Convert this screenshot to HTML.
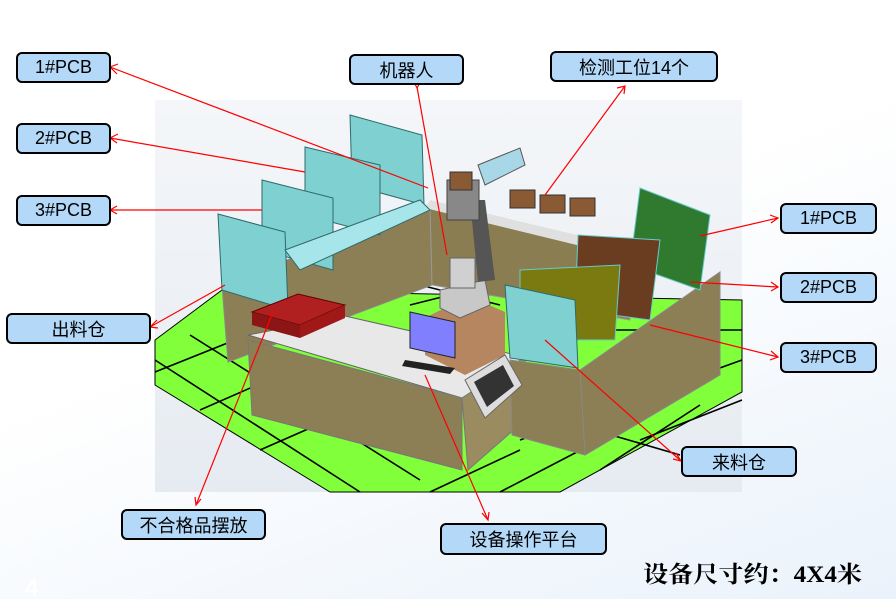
<!DOCTYPE html>
<html><head><meta charset="utf-8"><style>
body{margin:0;width:896px;height:599px;overflow:hidden;background:linear-gradient(160deg,#ffffff 0%,#ffffff 45%,#eaf2fb 100%);font-family:"Liberation Sans","Noto Sans CJK SC",sans-serif;position:relative}
.lb{position:absolute;background:#b3d8f8;border:2.5px solid #000;border-radius:6px;box-sizing:border-box;font-size:18px;color:#000;display:flex;align-items:center;justify-content:center}
svg{position:absolute;left:0;top:0}
</style></head><body>
<svg width="896" height="599" viewBox="0 0 896 599">
<defs><linearGradient id="bg" x1="0" y1="0" x2="0" y2="1"><stop offset="0" stop-color="#f4f6f9"/><stop offset="1" stop-color="#e6ebf1"/></linearGradient></defs>
<rect x="155" y="100" width="587" height="392" fill="url(#bg)"/>
<!-- floor -->
<polygon points="155,340 222,290 742,300 742,392 560,492 330,492 155,385" fill="#80ff3a" stroke="#000" stroke-width="1"/>
<g stroke="#000" stroke-width="1.6" fill="none">
<line x1="155" y1="360" x2="360" y2="492"/><line x1="190" y1="335" x2="420" y2="480"/>
<line x1="580" y1="330" x2="742" y2="330"/><line x1="155" y1="372" x2="260" y2="330"/>
<line x1="200" y1="410" x2="280" y2="375"/><line x1="260" y1="450" x2="340" y2="415"/>
<line x1="430" y1="492" x2="520" y2="450"/><line x1="500" y1="492" x2="600" y2="440"/>
<line x1="600" y1="470" x2="700" y2="405"/><line x1="520" y1="440" x2="742" y2="360"/>
<line x1="640" y1="440" x2="742" y2="400"/><line x1="680" y1="455" x2="560" y2="420"/>
<line x1="420" y1="285" x2="500" y2="305"/><line x1="410" y1="305" x2="470" y2="290"/>
</g>
<!-- back walls -->
<polygon points="222,285 430,205 432,285 228,362" fill="#8c7f55" stroke="#888"/>
<polygon points="430,205 630,255 630,320 432,285" fill="#8b7d52" stroke="#999"/>
<polygon points="430,200 640,250 630,258 425,208" fill="#e0e0e0"/>
<!-- left racks teal -->
<g fill="#7fd0d0" stroke="#2e6a6a" stroke-width="1">
<polygon points="350,115 422,135 424,205 352,185"/>
<polygon points="305,147 380,165 380,235 305,215"/>
<polygon points="262,180 333,198 333,270 262,250"/>
<polygon points="218,214 285,232 288,310 222,290"/>
<polygon points="285,250 420,200 430,210 300,270" fill="#a6e6ea"/>
</g>
<!-- table -->
<polygon points="248,335 345,316 525,357 462,398" fill="#e8e8e8" stroke="#666"/>
<polygon points="248,340 462,398 462,470 252,415" fill="#8c7f55" stroke="#777"/>
<polygon points="462,398 525,357 525,420 468,470" fill="#9a8c60" stroke="#777"/>
<!-- red boxes -->
<polygon points="252,312 298,294 345,305 300,325" fill="#b02020" stroke="#600"/>
<polygon points="252,312 300,325 300,338 252,325" fill="#8c1515"/>
<polygon points="300,325 345,305 345,318 300,338" fill="#a01818"/>
<!-- robot base + robot -->
<polygon points="425,318 468,296 505,312 505,355 465,375 425,355" fill="#b58660"/>
<polygon points="440,290 485,280 490,305 460,318 440,308" fill="#c8c8c8" stroke="#666"/>
<rect x="450" y="258" width="25" height="30" fill="#d0d0d0" stroke="#666"/>
<polygon points="470,200 485,200 495,280 478,282" fill="#555"/>
<rect x="447" y="180" width="32" height="40" fill="#888" stroke="#444"/>
<polygon points="478,165 520,148 525,165 485,185" fill="#a8d8e8" stroke="#555"/>
<!-- inspection stations -->
<g fill="#8a5a35" stroke="#333"><rect x="510" y="190" width="25" height="18"/><rect x="540" y="195" width="25" height="18"/><rect x="570" y="198" width="25" height="18"/><rect x="450" y="172" width="22" height="18"/></g>
<!-- right enclosure -->
<polygon points="580,370 720,272 720,375 585,455" fill="#8c7f55" stroke="#888"/>
<polygon points="510,360 580,370 585,455 512,435" fill="#8c7f55" stroke="#888"/>
<!-- right racks -->
<polygon points="640,188 710,215 700,290 630,265" fill="#2f7a2f" stroke="#6cc"/>
<polygon points="578,235 660,240 650,320 575,310" fill="#6b3d20" stroke="#6cc"/>
<polygon points="520,270 620,265 615,340 520,340" fill="#7a7a10" stroke="#6cc"/>
<polygon points="505,285 575,300 578,368 510,358" fill="#7fd0d0" stroke="#2e6a6a"/>
<!-- monitor & panel -->
<polygon points="410,312 455,322 455,358 410,348" fill="#8080ff" stroke="#222"/>
<polygon points="405,360 455,368 450,374 402,366" fill="#222"/>
<polygon points="465,380 505,355 522,385 485,418" fill="#ddd" stroke="#666"/>
<polygon points="474,382 503,365 514,386 487,407" fill="#333"/>
<!-- arrows -->
<g stroke="#f00" stroke-width="1.2" fill="none">
<line x1="110" y1="67" x2="428" y2="188"/><line x1="110" y1="138" x2="305" y2="172"/>
<line x1="110" y1="210" x2="262" y2="210"/><line x1="417" y1="87" x2="447" y2="255"/>
<line x1="625" y1="86" x2="545" y2="195"/><line x1="778" y1="218" x2="700" y2="236"/>
<line x1="778" y1="287" x2="690" y2="282"/><line x1="778" y1="357" x2="650" y2="325"/>
<line x1="150" y1="327" x2="225" y2="285"/><line x1="681" y1="461" x2="545" y2="340"/>
<line x1="196" y1="505" x2="273" y2="312"/><line x1="488" y1="520" x2="425" y2="375"/>
<polyline points="118,64 110,67 117,74"/><polyline points="118,134 110,138 117,143"/>
<polyline points="117,206 110,210 117,214"/><polyline points="413,80 417,88 421,81"/>
<polyline points="617,88 625,86 624,94"/><polyline points="770,215 778,218 771,223"/>
<polyline points="771,282 778,287 771,291"/><polyline points="771,351 778,357 770,360"/>
<polyline points="157,320 150,327 158,328"/><polyline points="676,453 681,461 673,459"/>
<polyline points="195,497 196,505 201,499"/><polyline points="482,513 488,520 489,512"/>
</g>
<text x="643" y="582" font-family="Liberation Serif,'Noto Serif CJK SC',serif" font-weight="bold" font-size="23" textLength="219" lengthAdjust="spacingAndGlyphs">设备尺寸约：4X4米</text>
<text x="25" y="596" fill="#fff" font-size="24" font-weight="bold">4</text>
</svg>
<div class="lb" style="left:16px;top:52px;width:95px;height:31px">1#PCB</div>
<div class="lb" style="left:16px;top:123px;width:95px;height:31px">2#PCB</div>
<div class="lb" style="left:16px;top:195px;width:95px;height:31px">3#PCB</div>
<div class="lb" style="left:349px;top:54px;width:115px;height:31px">机器人</div>
<div class="lb" style="left:550px;top:51px;width:168px;height:31px">检测工位14个</div>
<div class="lb" style="left:780px;top:203px;width:97px;height:31px">1#PCB</div>
<div class="lb" style="left:780px;top:272px;width:97px;height:31px">2#PCB</div>
<div class="lb" style="left:780px;top:342px;width:97px;height:31px">3#PCB</div>
<div class="lb" style="left:6px;top:313px;width:145px;height:31px">出料仓</div>
<div class="lb" style="left:681px;top:446px;width:116px;height:31px">来料仓</div>
<div class="lb" style="left:121px;top:509px;width:145px;height:31px">不合格品摆放</div>
<div class="lb" style="left:440px;top:523px;width:167px;height:32px">设备操作平台</div>
</body></html>
